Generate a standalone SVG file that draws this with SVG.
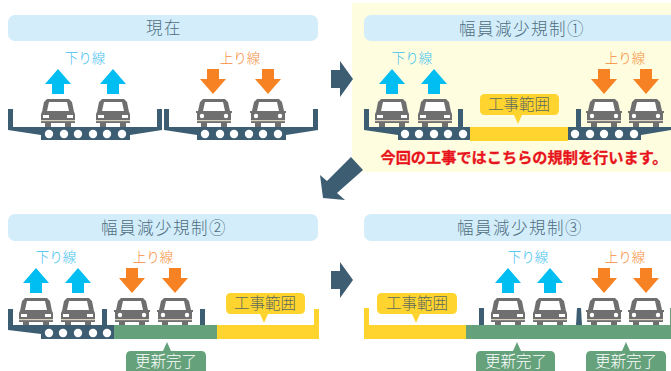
<svg xmlns="http://www.w3.org/2000/svg" width="671" height="371" viewBox="0 0 671 371">
<style>
text{font-family:"Noto Sans CJK JP","Noto Sans",sans-serif;text-anchor:middle}
.hd{fill:#d3edfb}
.ht{font-size:16.5px;fill:#4f6e80;letter-spacing:1.5px;font-weight:300}
.dn{font-size:13.5px;fill:#3fc0ee;font-weight:300}
.up{font-size:13.5px;fill:#f68d3c;font-weight:300}
.st{fill:#3d5d72}
.yl{fill:#ffd42e}
.gr{fill:#65a27b}
.wk{font-size:15.5px;fill:#5d6a5c;font-weight:300}
.dn2{font-size:15.5px;fill:#fff;font-weight:300}
.c{fill:#fff}
.conn{fill:#3d5d72}
</style>
<defs>
<g id="ua"><polygon points="0,0 13,15 6,15 6,25 -6,25 -6,15 -13,15" fill="#00bdf2"/></g>
<g id="da"><polygon points="0,25 13,10 6,10 6,0 -6,0 -6,10 -13,10" fill="#f68223"/></g>
<g id="rear">
<path d="M-11,0H11L14,3L16,13Q17,14 17,16V24H13V28H7V24H-7V28H-13V24H-17V16Q-17,14 -16,13L-14,3Z" fill="#6f6f6f"/>
<polygon points="-9,3 9,3 11,12 -11,12" fill="#fff"/>
<rect x="-15" y="16" width="6" height="3" fill="#fff"/><rect x="9" y="16" width="6" height="3" fill="#fff"/>
<rect x="-17" y="21" width="34" height="1.2" fill="#d8d2c0"/>
</g>
<g id="front">
<path d="M-11,0H11L14,3L16,12H18V14H17V24H13V28H7V24H-7V28H-13V24H-17V14H-18V12H-16L-14,3Z" fill="#6f6f6f"/>
<polygon points="-9,3 9,3 11,12 -11,12" fill="#fff"/>
<circle cx="-12" cy="17" r="2.2" fill="#fff"/><circle cx="12" cy="17" r="2.2" fill="#fff"/>
<rect x="-17" y="21" width="34" height="1.2" fill="#d8d2c0"/>
</g>
</defs>

<g id="panel-genzai">
<rect class="hd" x="8" y="15" width="310" height="26" rx="7"/>
<text class="ht" x="164" y="34">現在</text>
<text class="dn" x="85" y="63">下り線</text>
<text class="up" x="240" y="63">上り線</text>
<use href="#ua" x="58" y="69"/><use href="#ua" x="113" y="69"/>
<use href="#da" x="213" y="69"/><use href="#da" x="268" y="69"/>
<use href="#rear" x="58" y="99"/><use href="#rear" x="113" y="99"/>
<use href="#front" x="214" y="99"/><use href="#front" x="268" y="99"/>
<path class="st" d="M8,109H13V127H157V109H162V130L130,135V140H41V135L8,130Z"/>
<path class="st" d="M164,109H169V127H313V109H318V130L286,135V140H197V135L164,130Z"/>
<g class="c"><circle cx="49" cy="134" r="4.2"/><circle cx="64" cy="134" r="4.2"/><circle cx="78" cy="134" r="4.2"/><circle cx="93" cy="134" r="4.2"/><circle cx="107" cy="134" r="4.2"/><circle cx="122" cy="134" r="4.2"/>
<circle cx="205" cy="134" r="4.2"/><circle cx="220" cy="134" r="4.2"/><circle cx="234" cy="134" r="4.2"/><circle cx="249" cy="134" r="4.2"/><circle cx="263" cy="134" r="4.2"/><circle cx="278" cy="134" r="4.2"/></g>
</g>

<g id="panel-kisei1">
<rect x="352" y="3" width="319" height="169" fill="#fffde0"/>
<rect class="hd" x="364" y="15" width="320" height="26" rx="7"/>
<text class="ht" x="522" y="35">幅員減少規制①</text>
<text class="dn" x="412" y="63">下り線</text>
<text class="up" x="625" y="63">上り線</text>
<use href="#ua" x="392" y="69"/><use href="#ua" x="434" y="69"/>
<use href="#da" x="604" y="69"/><use href="#da" x="646" y="69"/>
<use href="#rear" x="392" y="99"/><use href="#rear" x="435" y="99"/>
<use href="#front" x="604" y="99"/><use href="#front" x="646" y="99"/>
<path class="st" d="M364,109H369V127H458V109H463V127H470V140H398V135L364,130Z"/>
<path class="st" d="M568,127H576V109H581V127H671V130L641,135V140H568Z"/>
<rect class="yl" x="470" y="127" width="98" height="14"/>
<g class="c"><circle cx="405" cy="134" r="4.2"/><circle cx="419" cy="134" r="4.2"/><circle cx="434" cy="134" r="4.2"/><circle cx="448" cy="134" r="4.2"/><circle cx="463" cy="134" r="4.2"/>
<circle cx="575" cy="134" r="4.2"/><circle cx="590" cy="134" r="4.2"/><circle cx="604" cy="134" r="4.2"/><circle cx="619" cy="134" r="4.2"/><circle cx="634" cy="134" r="4.2"/></g>
<path class="yl" d="M485,94H554Q559,94 559,99V110Q559,115 554,115H522L518,124L514,115H485Q480,115 480,110V99Q480,94 485,94Z"/>
<text class="wk" x="519" y="110">工事範囲</text>
<text x="524" y="163" font-size="15.2px" font-weight="700" fill="#e8141c" stroke="#e8141c" stroke-width="0.3">今回の工事ではこちらの規制を行います。</text>
</g>

<g id="panel-kisei2">
<rect class="hd" x="8" y="214" width="310" height="27" rx="7"/>
<text class="ht" x="164" y="234">幅員減少規制②</text>
<text class="dn" x="56" y="262">下り線</text>
<text class="up" x="153" y="262">上り線</text>
<use href="#ua" x="36" y="268"/><use href="#ua" x="78" y="268"/>
<use href="#da" x="132" y="268"/><use href="#da" x="175" y="268"/>
<use href="#rear" x="36" y="298"/><use href="#rear" x="78" y="298"/>
<use href="#front" x="132" y="298"/><use href="#front" x="175" y="298"/>
<path class="st" d="M8,309H13V325H102V309H107V325H114V339H41V334L8,330Z"/>
<rect class="st" x="200" y="309" width="5" height="16"/>
<rect class="gr" x="114" y="325" width="103" height="14"/>
<path class="yl" d="M217,325H314V309H319V339H217Z"/>
<g class="c"><circle cx="49" cy="333" r="4.2"/><circle cx="63" cy="333" r="4.2"/><circle cx="78" cy="333" r="4.2"/><circle cx="93" cy="333" r="4.2"/><circle cx="107" cy="333" r="4.2"/></g>
<path class="yl" d="M231,293H300Q305,293 305,298V309Q305,314 300,314H268L264,323L260,314H231Q226,314 226,309V298Q226,293 231,293Z"/>
<text class="wk" x="265" y="309">工事範囲</text>
<path class="gr" d="M131,351H163L167,342L171,351H201Q206,351 206,356V371H126V356Q126,351 131,351Z"/>
<text class="dn2" x="166" y="366.5">更新完了</text>
</g>

<g id="panel-kisei3">
<rect class="hd" x="364" y="214" width="320" height="27" rx="7"/>
<text class="ht" x="520" y="234">幅員減少規制③</text>
<text class="dn" x="528" y="262">下り線</text>
<text class="up" x="625" y="262">上り線</text>
<use href="#ua" x="508" y="268"/><use href="#ua" x="550" y="268"/>
<use href="#da" x="604" y="268"/><use href="#da" x="646" y="268"/>
<use href="#rear" x="508" y="298"/><use href="#rear" x="550" y="298"/>
<use href="#front" x="604" y="298"/><use href="#front" x="646" y="298"/>
<rect class="st" x="479" y="308" width="5" height="17"/>
<polygon class="st" points="577,308 581,308 582,325 576,325"/>
<path class="yl" d="M364,308H369V325H466V339H364Z"/>
<rect class="gr" x="466" y="325" width="205" height="14"/>
<rect class="gr" x="670" y="308" width="1" height="17"/>
<path class="yl" d="M382,293H452Q457,293 457,298V309Q457,314 452,314H420L416,323L412,314H382Q377,314 377,309V298Q377,293 382,293Z"/>
<text class="wk" x="417" y="309">工事範囲</text>
<path class="gr" d="M481,351H513L517,342L521,351H550Q555,351 555,356V371H476V356Q476,351 481,351Z"/>
<text class="dn2" x="516" y="366.5">更新完了</text>
<path class="gr" d="M591,351H622L626,342L630,351H661Q666,351 666,356V371H586V356Q586,351 591,351Z"/>
<text class="dn2" x="626" y="366.5">更新完了</text>
</g>

<g id="connectors" class="conn">
<polygon points="331,70 340,70 340,61 353,79 340,97 340,88 331,88"/>
<polygon points="331,271 340,271 340,262 353,280 340,298 340,289 331,289"/>
<polygon points="351,157 363,170 337,193 345,200 323,198 320,175 327,181"/>
</g>
</svg>
